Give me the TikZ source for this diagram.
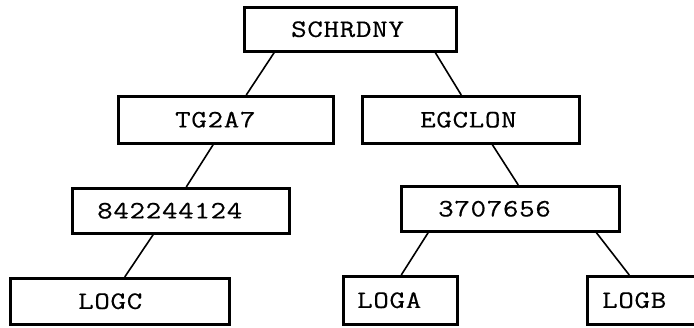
\documentclass[tikz,border=0pt]{standalone}
\usepackage{fontspec}
\setmonofont[FakeStretch=1.2, LetterSpace=3, FakeBold=0.5]{Latin Modern Mono}
\begin{document}
\begin{tikzpicture}[x=1pt,y=-1pt,
  box/.style={draw, line width=2.5pt, rectangle, inner sep=0pt, anchor=north west},
  txt/.style={font=\fontsize{25}{25}\selectfont\ttfamily, inner sep=0pt, anchor=west},
  link/.style={line width=1.6pt}]
\useasboundingbox (0,0) rectangle (694,327);
% boxes: position of the top-left corner, width and height set per box
\node[box, minimum width=212pt, minimum height=44pt] (s) at (243,6) {};
\node[box, minimum width=215pt, minimum height=47pt] (t) at (117,95) {};
\node[box, minimum width=217pt, minimum height=47pt] (e) at (361,95) {};
\node[box, minimum width=217pt, minimum height=45pt] (n) at (71,187) {};
\node[box, minimum width=218pt, minimum height=45pt] (m) at (400,185) {};
\node[box, minimum width=219pt, minimum height=46pt] (c) at (9,277) {};
\node[box, minimum width=114pt, minimum height=48pt] (a) at (342,275) {};
\node[box, minimum width=120pt, minimum height=48pt] (b) at (586,275) {};
% labels
\node[txt] (ls) at ([xshift=48pt]s.west) {SCHRDNY};
\node[txt] (lt) at ([xshift=58pt]t.west) {TG2A7};
\node[txt] (le) at ([xshift=59pt]e.west) {EGCLON};
\node[txt] (ln) at ([xshift=26pt]n.west) {842244124};
\node[txt] (lm) at ([xshift=38pt]m.west) {3707656};
\node[txt] (lc) at ([xshift=69pt]c.west) {LOGC};
\node[txt] (la) at ([xshift=15pt]a.west) {LOGA};
\node[txt] (lb) at ([xshift=16pt]b.west) {LOGB};
% connectors
\draw[link] ([xshift=-76pt]s.south) -- ([xshift=20.5pt]t.north);
\draw[link] ([xshift=85pt]s.south) -- ([xshift=-9.5pt]e.north);
\draw[link] ([xshift=-12.5pt]t.south) -- ([xshift=5.5pt]n.north);
\draw[link] ([xshift=-27.5pt]n.south) -- ([xshift=5pt]c.north);
\draw[link] ([xshift=21.5pt]e.south) -- ([xshift=8pt]m.north);
\draw[link] ([xshift=-82pt]m.south) -- ([xshift=1pt]a.north);
\draw[link] ([xshift=86pt]m.south) -- ([xshift=-18pt]b.north);
\end{tikzpicture}
\end{document}
